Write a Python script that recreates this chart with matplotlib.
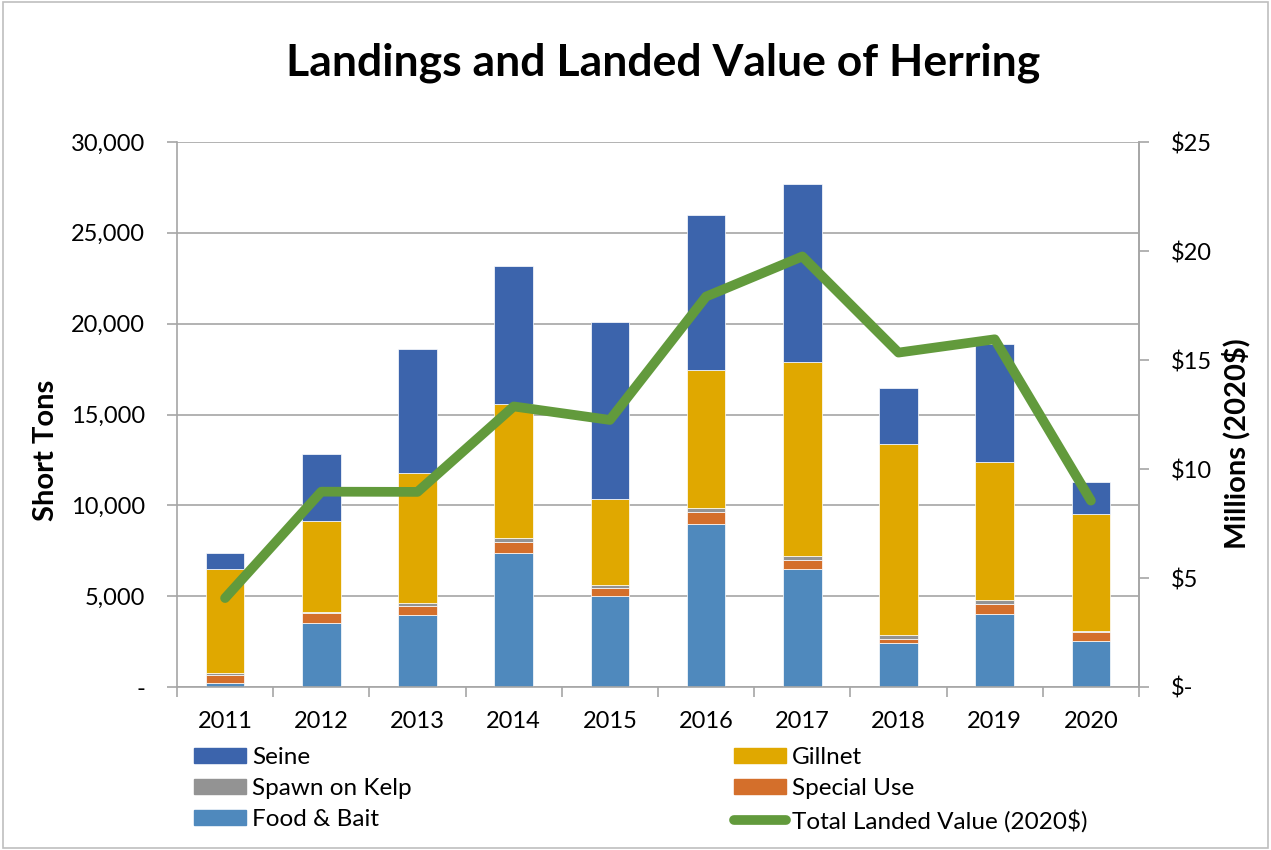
import matplotlib
matplotlib.use("Agg")
import matplotlib.pyplot as plt
import numpy as np
from matplotlib.patches import Patch, Rectangle
from matplotlib.lines import Line2D
from matplotlib.ticker import FuncFormatter

plt.rcParams['font.family'] = ['Lato', 'DejaVu Sans']

# data (short tons, millions of 2020$)
years = ['2011', '2012', '2013', '2014', '2015', '2016', '2017', '2018', '2019', '2020']
food_bait = [240, 3540, 3960, 7390, 5030, 8970, 6480, 2400, 4000, 2520]
special_use = [420, 520, 520, 600, 440, 670, 490, 260, 590, 530]
spawn_kelp = [130, 90, 130, 220, 160, 240, 250, 180, 220, 30]
gillnet = [5710, 5000, 7180, 7390, 4710, 7560, 10660, 10510, 7580, 6420]
seine = [850, 3650, 6820, 7590, 9770, 8520, 9820, 3100, 6510, 1810]
landed_value = [4.08, 8.96, 8.95, 12.87, 12.25, 17.91, 19.75, 15.34, 15.95, 8.55]

c_seine = '#3C64AC'
c_gill = '#E0A800'
c_spawn = '#939393'
c_special = '#D46F2B'
c_food = '#4F89BD'
c_line = '#629A3C'
grid_c = '#A6A6A6'

fig = plt.figure(figsize=(12.71, 8.5), dpi=100)
ax = fig.add_axes([177 / 1271, 1 - 687 / 850, 962 / 1271, 545 / 850])

x = np.arange(len(years))
w = 0.4
bottom = np.zeros(len(years))
for vals, col in [(food_bait, c_food), (special_use, c_special), (spawn_kelp, c_spawn),
                  (gillnet, c_gill), (seine, c_seine)]:
    ax.bar(x, vals, w, bottom=bottom, color=col, edgecolor='white', linewidth=0.5, zorder=2)
    bottom += np.array(vals)

ax.set_xlim(-0.5, len(years) - 0.5)
ax.set_ylim(0, 30000)
ax.set_yticks(np.arange(0, 30001, 5000))
ax.yaxis.set_major_formatter(FuncFormatter(lambda v, p: '-' if v == 0 else f'{int(v):,}'))
ax.grid(axis='y', color=grid_c, linewidth=1.2, zorder=0)
ax.set_axisbelow(True)
ax.set_xticks(x)
ax.set_xticklabels(years)
ax.set_xticks(np.arange(-0.5, len(years)), minor=True)
ax.tick_params(axis='x', which='major', length=0, pad=17, labelsize=17)
ax.tick_params(axis='x', which='minor', length=7, color=grid_c, width=1.2)
ax.tick_params(axis='y', length=7, color=grid_c, width=1.2, pad=16, labelsize=17)
ax.spines['top'].set_visible(False)
for s in ['left', 'right', 'bottom']:
    ax.spines[s].set_color(grid_c)
    ax.spines[s].set_linewidth(1.2)

ax2 = ax.twinx()
ax2.plot(x, landed_value, color=c_line, linewidth=7, solid_capstyle='round',
         solid_joinstyle='round', zorder=5)
ax2.set_ylim(0, 25)
ax2.set_yticks(np.arange(0, 26, 5))
ax2.yaxis.set_major_formatter(FuncFormatter(lambda v, p: '$-' if v == 0 else f'${int(v)}'))
ax2.tick_params(axis='y', length=7, color=grid_c, width=1.2, pad=16, labelsize=17)
for s in ['top', 'left', 'bottom']:
    ax2.spines[s].set_visible(False)
ax2.spines['right'].set_color(grid_c)
ax2.spines['right'].set_linewidth(1.2)

fig.text(663 / 1271, 1 - 63 / 850, 'Landings and Landed Value of Herring',
         ha='center', va='center', fontsize=32, fontweight='bold')
fig.text(46 / 1271, 1 - 450 / 850, 'Short Tons', rotation=90, ha='center', va='center',
         fontsize=21, fontweight='bold')
fig.text(1236 / 1271, 1 - 444 / 850, 'Millions (2020$)', rotation=90, ha='center', va='center',
         fontsize=21, fontweight='bold')

leg_kw = dict(frameon=False, fontsize=17.5, handlelength=2.15, handleheight=0.55,
              handletextpad=0.25, labelspacing=0.42, borderpad=0, borderaxespad=0,
              loc='upper left')
h1 = [Patch(color=c_seine), Patch(color=c_spawn), Patch(color=c_food)]
fig.legend(h1, ['Seine', 'Spawn on Kelp', 'Food & Bait'],
           bbox_to_anchor=(194 / 1271, 1 - 747 / 850), **leg_kw)
h2 = [Patch(color=c_gill), Patch(color=c_special),
      Line2D([0], [0], color=c_line, linewidth=7, solid_capstyle='round')]
fig.legend(h2, ['Gillnet', 'Special Use', 'Total Landed Value (2020$)'],
           bbox_to_anchor=(734 / 1271, 1 - 747 / 850), **leg_kw)

fig.patches.append(Rectangle((0.002, 0.002), 0.996, 0.996, transform=fig.transFigure,
                             fill=False, edgecolor='#BFBFBF', linewidth=1.2))

fig.savefig('out.png', dpi=100)
